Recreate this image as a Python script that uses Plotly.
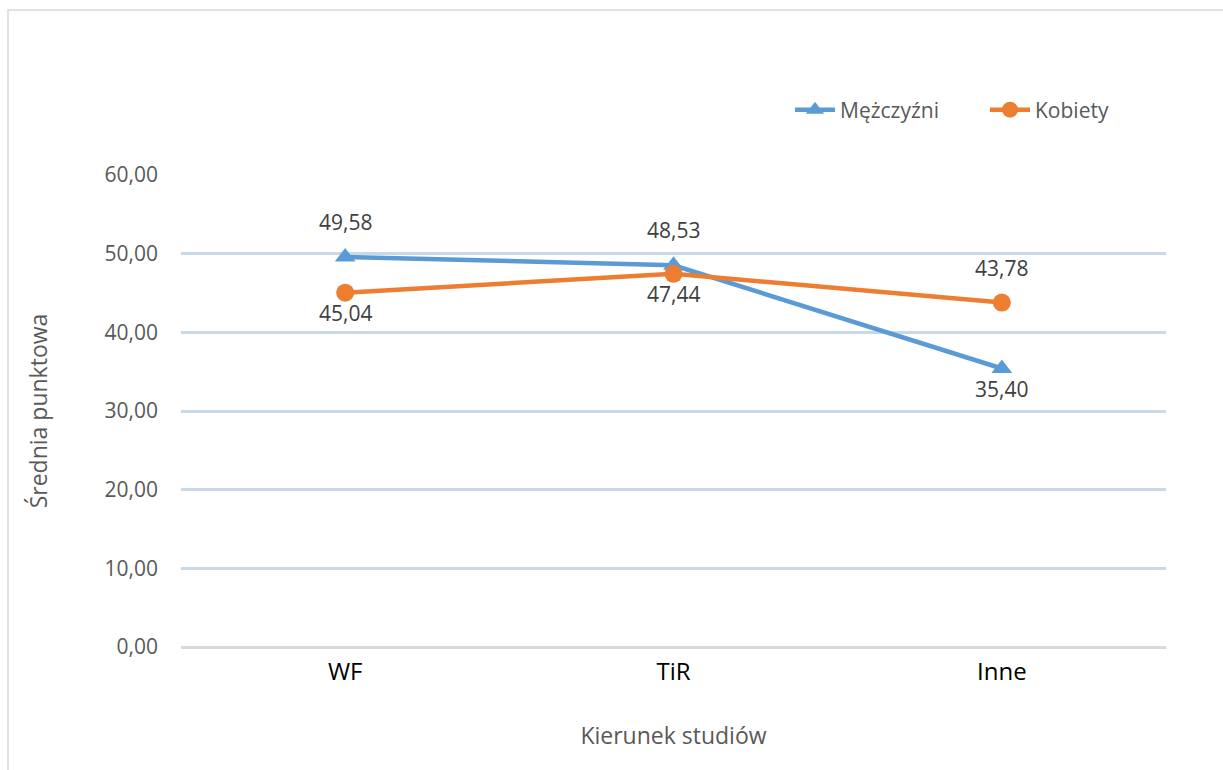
import plotly.graph_objects as go

categories = ["WF", "TiR", "Inne"]
men = [49.58, 48.53, 35.40]
women = [45.04, 47.44, 43.78]
y_ticks = [0, 10, 20, 30, 40, 50, 60]

# label placement per point: +1 above the marker, -1 below
men_label_side = [1, 1, -1]
women_label_side = [-1, -1, 1]

BLUE = "#5B9BD5"
ORANGE = "#ED7D31"
FONT = "Open Sans, Liberation Sans, sans-serif"

W, H = 1223, 770
L, R, T, B = 181, 57, 175, 123

fig = go.Figure()
fig.add_trace(go.Scatter(
    x=categories, y=men, name="Mężczyźni", mode="lines+markers",
    line=dict(color=BLUE, width=4.5),
    marker=dict(symbol="triangle-up", size=18, color=BLUE),
))
fig.add_trace(go.Scatter(
    x=categories, y=women, name="Kobiety", mode="lines+markers",
    line=dict(color=ORANGE, width=4.5),
    marker=dict(symbol="circle", size=18, color=ORANGE),
))

def fmt(v):
    return f"{v:.2f}".replace(".", ",")

for vals, sides in ((men, men_label_side), (women, women_label_side)):
    for c, v, s in zip(categories, vals, sides):
        fig.add_annotation(
            x=c, y=v, text=fmt(v), showarrow=False,
            yshift=35 if s > 0 else -20,
            font=dict(family=FONT, size=21, color="#404040"),
        )

# outer chart frame
pw, ph = W - L - R, H - T - B
fig.add_shape(
    type="rect", xref="paper", yref="paper",
    x0=(8 - L) / pw, x1=(W + 20 - L) / pw,
    y0=(H - (H + 20) - B) / ph, y1=(H - 10 - B) / ph,
    line=dict(color="#D9D9D9", width=1.5), fillcolor="rgba(0,0,0,0)",
    layer="below",
)

fig.update_layout(
    width=W, height=H,
    margin=dict(l=L, r=R, t=T, b=B),
    paper_bgcolor="white", plot_bgcolor="white",
    separators=", ",
    font=dict(family=FONT, color="#595959"),
    showlegend=True,
    legend=dict(
        orientation="h", x=(790 - L) / pw, xanchor="left",
        y=(H - 110 - B) / ph, yanchor="middle",
        font=dict(family=FONT, size=21, color="#595959"),
        itemwidth=40, entrywidth=140, entrywidthmode="pixels",
    ),
    xaxis=dict(
        range=[-0.5, 2.5], showgrid=False, zeroline=False, showline=False,
        ticks="", ticklabelstandoff=8,
        tickfont=dict(family=FONT, size=24, color="#000000"),
        title=dict(text="Kierunek studiów", standoff=41,
                   font=dict(family=FONT, size=23, color="#595959")),
    ),
    yaxis=dict(
        range=[0, 60], tickvals=y_ticks, tickformat=".2f",
        showgrid=True, gridcolor="#C9D9E8", gridwidth=3,
        zeroline=True, zerolinecolor="#D9D9D9", zerolinewidth=3,
        showline=False, ticks="", ticklabelstandoff=22,
        tickfont=dict(family=FONT, size=21, color="#595959"),
        title=dict(text="Średnia punktowa", standoff=50,
                   font=dict(family=FONT, size=23, color="#595959")),
    ),
)

fig.write_html("out.html")
